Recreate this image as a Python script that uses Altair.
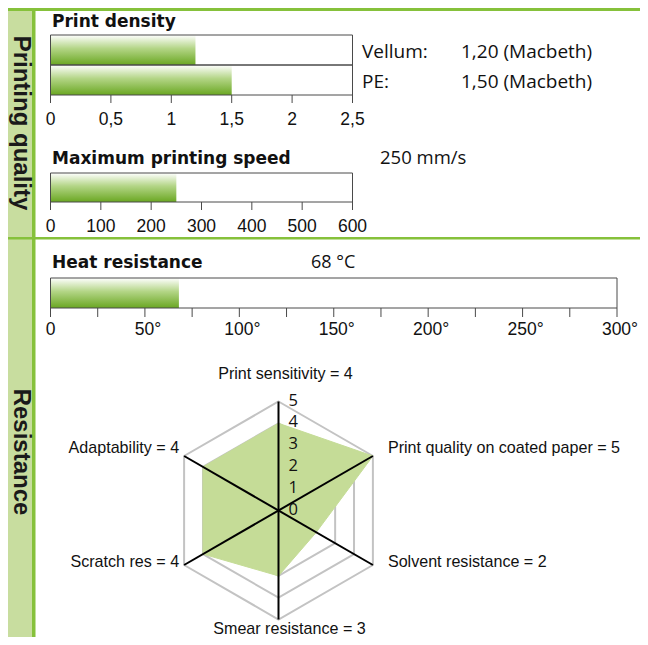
import math
import altair as alt
import pandas as pd

# ---------------- data ----------------
section_labels = ["Printing quality", "Resistance"]

density_title = ["Print density"]
density_materials = ["Vellum:", "PE:"]
density_values = [1.20, 1.50]
density_notes = ["1,20 (Macbeth)", "1,50 (Macbeth)"]
density_ticks = [0, 0.5, 1, 1.5, 2, 2.5]
density_tick_labels = ["0", "0,5", "1", "1,5", "2", "2,5"]

speed_title = ["Maximum printing speed"]
speed_values = [250]
speed_note = ["250 mm/s"]
speed_ticks = [0, 100, 200, 300, 400, 500, 600]
speed_tick_labels = ["0", "100", "200", "300", "400", "500", "600"]

heat_title = ["Heat resistance"]
heat_values = [68]
heat_note = ["68 °C"]
heat_ticks = [0, 25, 50, 75, 100, 125, 150, 175, 200, 225, 250, 275, 300]
heat_label_ticks = [0, 50, 100, 150, 200, 250, 300]
heat_tick_labels = ["0", "50°", "100°", "150°", "200°", "250°", "300°"]

radar_axes = ["Print sensitivity", "Print quality on coated paper", "Solvent resistance",
              "Smear resistance", "Scratch res", "Adaptability"]
radar_values = [4, 5, 2, 3, 4, 4]
radar_levels = [1, 2, 3, 4, 5]
radar_level_ticks = [0, 1, 2, 3, 4, 5]
radar_level_labels = ["0", "1", "2", "3", "4", "5"]
radar_max = 5

# ---------------- layout / style ----------------
OX, OY = 8, 8          # page margin: reference pixel -> chart pixel
W, H = 632, 629        # whole page is exactly 648 x 645
GREEN = "#86c13b"
BAND = "#c8dd9f"
FRAME = "#4a4a4a"
FILL = "#c5dc97"
GRID = "#c3c3c3"
TITLE_FONT = "DejaVu Sans"
TICK_FONT = "Liberation Sans, Arial, sans-serif"
NOTE_FONT = "Open Sans"


def px(v):
    return v - OX


def py(v):
    return v - OY


def lin(domain, a, b):
    return alt.Scale(domain=domain, range=[a, b], nice=False, zero=False)


grad = alt.Gradient(
    gradient="linear",
    stops=[alt.GradientStop(color="#ffffff", offset=0),
           alt.GradientStop(color="#b3d586", offset=0.45),
           alt.GradientStop(color="#6aa722", offset=1)],
    x1=0, x2=0, y1=0, y2=1)

layers = []


def vrect(x0, x1, y0, y1, color):
    return alt.Chart(pd.DataFrame({"k": [0]})).mark_rect(color=color).encode(
        x=alt.value(x0), x2=alt.value(x1), y=alt.value(y0), y2=alt.value(y1))


def frame(x0, x1, y0, y1):
    return alt.Chart(pd.DataFrame({"k": [0]})).mark_rect(
        fillOpacity=0, stroke=FRAME, strokeWidth=1).encode(
        x=alt.value(x0), x2=alt.value(x1), y=alt.value(y0), y2=alt.value(y1))


# background decorations
layers.append(vrect(0, px(32), 0, H, BAND))
layers.append(vrect(px(32), px(35.5), 0, H, GREEN))
layers.append(vrect(0, W, 0, 3, GREEN))
layers.append(vrect(0, W, py(237), py(239.5), GREEN))

# section labels
for labtxt, yc in zip(section_labels, [123, 452]):
    layers.append(alt.Chart(pd.DataFrame({"t": [labtxt]})).mark_text(
        angle=90, font=TICK_FONT, fontWeight="bold", fontSize=24,
        align="center", baseline="middle", color="#1a1a1a").encode(
        x=alt.value(12.5), y=alt.value(py(yc)), text="t:N"))


def title(txt, x, y, font=TITLE_FONT, weight="bold", size=17):
    return alt.Chart(pd.DataFrame({"t": txt})).mark_text(
        font=font, fontWeight=weight, fontSize=size, align="left",
        baseline="alphabetic", color="#111111").encode(
        x=alt.value(px(x)), y=alt.value(py(y)), text="t:N")


def ticks(vals, scale, y0, y1):
    return alt.Chart(pd.DataFrame({"t": vals})).mark_rule(color=FRAME, strokeWidth=1).encode(
        x=alt.X("t:Q", scale=scale, axis=None), y=alt.value(py(y0)), y2=alt.value(py(y1)))


def tick_labels(vals, labs, scale, y, dx=0):
    return alt.Chart(pd.DataFrame({"t": vals, "l": labs})).mark_text(
        font=TICK_FONT, fontSize=17.5, baseline="alphabetic", color="#111111", dx=dx).encode(
        x=alt.X("t:Q", scale=scale, axis=None), y=alt.value(py(y)), text="l:N")


# ---------- print density ----------
D = (50.5, 352.5, 35, 95)
dens = pd.DataFrame({"material": density_materials, "value": density_values, "note": density_notes})
dx_s = lin([density_ticks[0], density_ticks[-1]], px(D[0]), px(D[1]))
dy_s = alt.Scale(domain=density_materials, range=[py(D[2]), py(D[3])], paddingInner=0, paddingOuter=0)

layers.append(title(density_title, 52, 27))
layers.append(alt.Chart(dens).mark_bar(color=grad).encode(
    x=alt.X("value:Q", scale=dx_s, axis=None),
    y=alt.Y("material:N", scale=dy_s, axis=None, sort=None)))
layers.append(alt.Chart(dens).mark_rect(fillOpacity=0, stroke=FRAME, strokeWidth=1).encode(
    x=alt.value(px(D[0])), x2=alt.value(px(D[1])),
    y=alt.Y("material:N", scale=dy_s, axis=None, sort=None)))
layers.append(ticks(density_ticks, dx_s, D[3], D[3] + 8))
layers.append(tick_labels(density_ticks, density_tick_labels, dx_s, 124.5))
layers.append(alt.Chart(dens).mark_text(font=NOTE_FONT, fontSize=19, align="left",
                                        baseline="alphabetic", dy=7.5, color="#111111").encode(
    x=alt.value(px(362)), y=alt.Y("material:N", scale=dy_s, axis=None, sort=None), text="material:N"))
layers.append(alt.Chart(dens).mark_text(font=NOTE_FONT, fontSize=19, align="left",
                                        baseline="alphabetic", dy=7.5, color="#111111").encode(
    x=alt.value(px(461)), y=alt.Y("material:N", scale=dy_s, axis=None, sort=None), text="note:N"))

# ---------- maximum printing speed ----------
S = (50.5, 352.5, 173, 202)
sx_s = lin([speed_ticks[0], speed_ticks[-1]], px(S[0]), px(S[1]))
layers.append(title(speed_title, 52, 163.5))
layers.append(title(speed_note, 380, 163.5, font=NOTE_FONT, weight="normal", size=18.5))
layers.append(alt.Chart(pd.DataFrame({"value": speed_values})).mark_bar(color=grad).encode(
    x=alt.X("value:Q", scale=sx_s, axis=None), x2=alt.datum(0),
    y=alt.value(py(S[2])), y2=alt.value(py(S[3]))))
layers.append(frame(px(S[0]), px(S[1]), py(S[2]), py(S[3])))
layers.append(ticks(speed_ticks, sx_s, S[3], S[3] + 8))
layers.append(tick_labels(speed_ticks, speed_tick_labels, sx_s, 231.5))

# ---------- heat resistance ----------
HT = (50.5, 617, 278, 308)
hx_s = lin([heat_ticks[0], heat_ticks[-1]], px(HT[0]), px(HT[1]))
layers.append(title(heat_title, 52, 268))
layers.append(title(heat_note, 311, 268, font=NOTE_FONT, weight="normal", size=18))
layers.append(alt.Chart(pd.DataFrame({"value": heat_values})).mark_bar(color=grad).encode(
    x=alt.X("value:Q", scale=hx_s, axis=None), x2=alt.datum(0),
    y=alt.value(py(HT[2])), y2=alt.value(py(HT[3]))))
layers.append(frame(px(HT[0]), px(HT[1]), py(HT[2]), py(HT[3])))
layers.append(ticks(heat_ticks, hx_s, HT[3], HT[3] + 9))
layers.append(tick_labels(heat_label_ticks[:1], heat_tick_labels[:1], hx_s, 335))
layers.append(tick_labels(heat_label_ticks[1:], heat_tick_labels[1:], hx_s, 335, dx=3))

# ---------- radar ----------
CX, CY, R = 278.5, 510.5, 109
rx = lin([-radar_max, radar_max], px(CX - R), px(CX + R))
ry = lin([-radar_max, radar_max], py(CY + R), py(CY - R))
n = len(radar_axes)
ang = [math.radians(90 - 360 / n * i) for i in range(n)]

grid = pd.DataFrame([{"level": L, "k": k, "x": L * math.cos(ang[k]), "y": L * math.sin(ang[k])}
                     for L in radar_levels for k in range(n)])
poly = pd.DataFrame([{"k": k, "x": radar_values[k] * math.cos(ang[k]),
                      "y": radar_values[k] * math.sin(ang[k])} for k in range(n)])
axes = pd.DataFrame([{"x": radar_max * math.cos(ang[k]), "y": radar_max * math.sin(ang[k]),
                      "x2": -radar_max * math.cos(ang[k]), "y2": -radar_max * math.sin(ang[k])}
                     for k in range(n // 2)])
lvl = pd.DataFrame({"y": radar_level_ticks, "l": radar_level_labels})
lab = pd.DataFrame([{"k": k, "x": radar_max * math.cos(ang[k]), "y": radar_max * math.sin(ang[k]),
                     "t": f"{radar_axes[k]} = {radar_values[k]}"} for k in range(n)])

layers.append(alt.Chart(grid).mark_line(interpolate="linear-closed", color=GRID, strokeWidth=2).encode(
    x=alt.X("x:Q", scale=rx, axis=None), y=alt.Y("y:Q", scale=ry, axis=None),
    detail="level:N", order="k:Q"))
layers.append(alt.Chart(poly).mark_line(interpolate="linear-closed", fill=FILL, stroke=FILL,
                                        strokeWidth=1).encode(
    x=alt.X("x:Q", scale=rx, axis=None), y=alt.Y("y:Q", scale=ry, axis=None), order="k:Q"))
layers.append(alt.Chart(axes).mark_rule(color="#000000", strokeWidth=2).encode(
    x=alt.X("x:Q", scale=rx, axis=None), y=alt.Y("y:Q", scale=ry, axis=None), x2="x2:Q", y2="y2:Q"))
layers.append(alt.Chart(lvl).mark_text(font=NOTE_FONT, fontSize=16.5, align="left", baseline="middle",
                                       dx=10, dy=-1, color="#111111").encode(
    x=alt.value(px(CX)), y=alt.Y("y:Q", scale=ry, axis=None), text="l:N"))

label_specs = [
    ([0], "center", 7, -28),
    ([1], "left", 15, -8.5),
    ([2], "left", 15, -3),
    ([3], "center", 11, 9.5),
    ([4], "right", -5, -3),
    ([5], "right", -5, -8.5),
]
for ks, al, ddx, ddy in label_specs:
    layers.append(alt.Chart(lab[lab["k"].isin(ks)]).mark_text(
        font=TICK_FONT, fontSize=16.1, align=al, baseline="middle", dx=ddx, dy=ddy,
        color="#111111").encode(
        x=alt.X("x:Q", scale=rx, axis=None), y=alt.Y("y:Q", scale=ry, axis=None), text="t:N"))

chart = alt.layer(*layers).resolve_scale(x="independent", y="independent").properties(
    width=W, height=H, padding=0, autosize=alt.AutoSizeParams(type="none"), background="white"
).configure_view(strokeWidth=0)

chart.save("out.html", embed_options={"renderer": "svg", "actions": False})
